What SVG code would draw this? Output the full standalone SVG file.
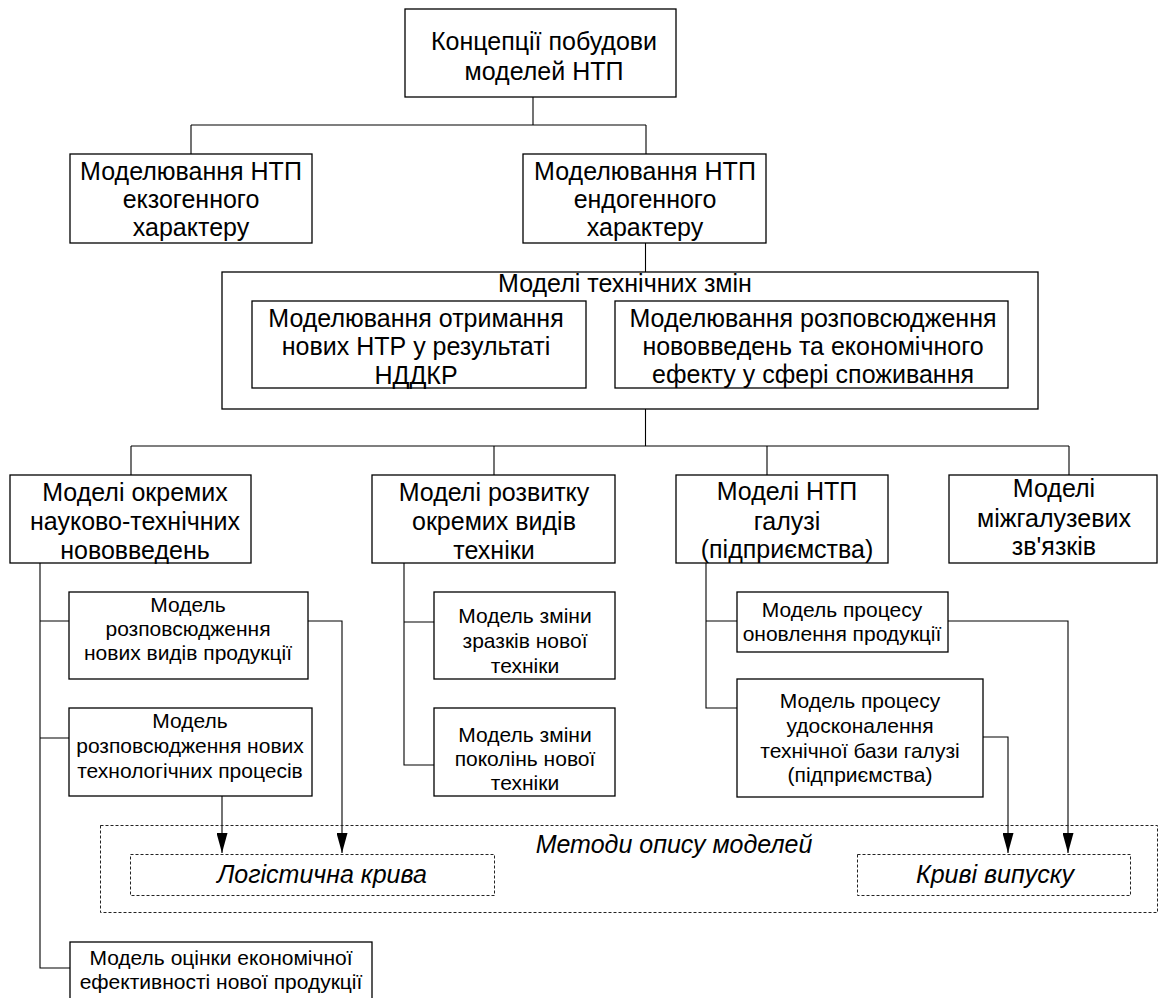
<svg xmlns="http://www.w3.org/2000/svg" width="1160" height="998" viewBox="0 0 1160 998">
  <defs>
    <style>
      .box { fill: #fff; stroke: #000; stroke-width: 1.3; }
      .dash { fill: none; stroke: #222; stroke-width: 1; stroke-dasharray: 3 2; }
      .ln { fill: none; stroke: #000; stroke-width: 1.1; }
      .t { font-family: "Liberation Sans", Arial, sans-serif; font-size: 25px; fill: #000; text-anchor: middle; }
      .s { font-family: "Liberation Sans", Arial, sans-serif; font-size: 21px; fill: #000; text-anchor: middle; }
      .i { font-family: "Liberation Sans", Arial, sans-serif; font-size: 25px; font-style: italic; fill: #000; text-anchor: middle; }
    </style>
    <marker id="arrow" markerUnits="userSpaceOnUse" markerWidth="20" markerHeight="11" refX="20" refY="5.5" orient="auto">
      <path d="M0,0 L20,5.5 L0,11 Z" fill="#000"/>
    </marker>
  </defs>
  <rect width="1160" height="998" fill="#fff"/>

  <!-- connectors -->
  <g id="connectors">
    <path class="ln" d="M533,97 V125 M191,125 H646 M191,125 V154 M646,125 V154"/>
    <path class="ln" d="M645.5,243 V272"/>
    <path class="ln" d="M645.5,409 V446 M131,446 H1069 M131,446 V475 M494,446 V475 M767,446 V475 M1069,446 V475"/>
    <path class="ln" d="M40,563 V968 H70 M40,621 H69 M40,738 H69"/>
    <path class="ln" d="M404,563 V765 H434 M404,622 H434"/>
    <path class="ln" d="M706,563 V708 H737 M706,621 H737"/>
    <path class="ln" marker-end="url(#arrow)" d="M308,621 H342 V853"/>
    <path class="ln" marker-end="url(#arrow)" d="M222,796 V853"/>
    <path class="ln" marker-end="url(#arrow)" d="M948,621 H1068 V853"/>
    <path class="ln" marker-end="url(#arrow)" d="M983,737 H1008 V853"/>
  </g>

  <g id="concepts">
    <rect class="box" x="405" y="9" width="271" height="88"/>
    <text class="t" x="544" y="50">Концепції побудови</text>
    <text class="t" x="544" y="80">моделей НТП</text>
  </g>

  <g id="exogenous">
    <rect class="box" x="70" y="154" width="242" height="89"/>
    <text class="t" x="191" y="180">Моделювання НТП</text>
    <text class="t" x="191" y="208">екзогенного</text>
    <text class="t" x="191" y="236">характеру</text>
  </g>

  <g id="endogenous">
    <rect class="box" x="523" y="154" width="243" height="89"/>
    <text class="t" x="645" y="180">Моделювання НТП</text>
    <text class="t" x="645" y="208">ендогенного</text>
    <text class="t" x="645" y="236">характеру</text>
  </g>

  <g id="tech-change">
    <rect class="box" x="222" y="272" width="816" height="137"/>
    <text class="t" x="625" y="292">Моделі технічних змін</text>
  </g>

  <g id="rnd">
    <rect class="box" x="252" y="301" width="334" height="87"/>
    <text class="t" x="416" y="327">Моделювання отримання</text>
    <text class="t" x="416" y="355">нових НТР у результаті</text>
    <text class="t" x="416" y="384">НДДКР</text>
  </g>

  <g id="diffusion">
    <rect class="box" x="615" y="301" width="393" height="87"/>
    <text class="t" x="813" y="327">Моделювання розповсюдження</text>
    <text class="t" x="813" y="355">нововведень та економічного</text>
    <text class="t" x="813" y="383">ефекту у сфері споживання</text>
  </g>

  <g id="innovations">
    <rect class="box" x="10" y="475" width="241" height="88"/>
    <text class="t" x="135" y="501">Моделі окремих</text>
    <text class="t" x="135" y="530">науково-технічних</text>
    <text class="t" x="135" y="559">нововведень</text>
  </g>

  <g id="equipment">
    <rect class="box" x="372" y="475" width="243" height="88"/>
    <text class="t" x="494" y="501">Моделі розвитку</text>
    <text class="t" x="494" y="530">окремих видів</text>
    <text class="t" x="494" y="559">техніки</text>
  </g>

  <g id="industry">
    <rect class="box" x="676" y="475" width="212" height="88"/>
    <text class="t" x="787" y="500">Моделі НТП</text>
    <text class="t" x="787" y="530">галузі</text>
    <text class="t" x="787" y="558">(підприємства)</text>
  </g>

  <g id="intersector">
    <rect class="box" x="949" y="475" width="208" height="88"/>
    <text class="t" x="1054" y="497">Моделі</text>
    <text class="t" x="1054" y="527">міжгалузевих</text>
    <text class="t" x="1054" y="555">зв'язків</text>
  </g>

  <g id="new-products">
    <rect class="box" x="69" y="592" width="239" height="87"/>
    <text class="s" x="188" y="612">Модель</text>
    <text class="s" x="188" y="636">розповсюдження</text>
    <text class="s" x="188" y="660">нових видів продукції</text>
  </g>

  <g id="new-processes">
    <rect class="box" x="69" y="708" width="243" height="88"/>
    <text class="s" x="190" y="728">Модель</text>
    <text class="s" x="190" y="753">розповсюдження нових</text>
    <text class="s" x="190" y="778">технологічних процесів</text>
  </g>

  <g id="samples">
    <rect class="box" x="434" y="592" width="181" height="87"/>
    <text class="s" x="525" y="623">Модель зміни</text>
    <text class="s" x="525" y="648">зразків нової</text>
    <text class="s" x="525" y="673">техніки</text>
  </g>

  <g id="generations">
    <rect class="box" x="434" y="708" width="181" height="88"/>
    <text class="s" x="525" y="742">Модель зміни</text>
    <text class="s" x="525" y="766">поколінь нової</text>
    <text class="s" x="525" y="790">техніки</text>
  </g>

  <g id="renewal">
    <rect class="box" x="737" y="592" width="211" height="60"/>
    <text class="s" x="842" y="617">Модель процесу</text>
    <text class="s" x="842" y="641">оновлення продукції</text>
  </g>

  <g id="tech-base">
    <rect class="box" x="737" y="679" width="246" height="118"/>
    <text class="s" x="860" y="708">Модель процесу</text>
    <text class="s" x="860" y="733">удосконалення</text>
    <text class="s" x="860" y="758">технічної бази галузі</text>
    <text class="s" x="860" y="782">(підприємства)</text>
  </g>

  <g id="methods">
    <rect class="dash" x="100.5" y="825.5" width="1057" height="87"/>
    <text class="i" x="674" y="853">Методи опису моделей</text>
  </g>

  <g id="logistic">
    <rect class="dash" x="130.5" y="854.5" width="364" height="41"/>
    <text class="i" x="322" y="883">Логістична крива</text>
  </g>

  <g id="output-curves">
    <rect class="dash" x="857.5" y="854.5" width="273" height="41"/>
    <text class="i" x="995" y="883">Криві випуску</text>
  </g>

  <g id="efficiency">
    <rect class="box" x="70" y="942" width="302" height="70"/>
    <text class="s" x="221" y="965">Модель оцінки економічної</text>
    <text class="s" x="221" y="989">ефективності нової продукції</text>
  </g>
</svg>
